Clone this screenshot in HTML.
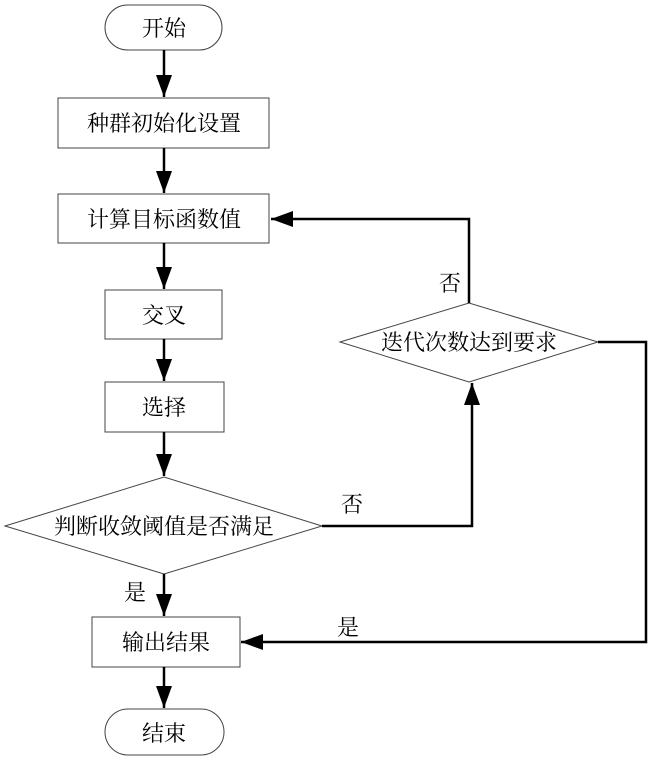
<!DOCTYPE html>
<html><head><meta charset="utf-8"><style>
html,body{margin:0;padding:0;background:#fff;}
text{font-family:"Liberation Serif","Noto Serif CJK SC","Noto Sans CJK SC",serif;font-size:22px;fill:#000;}
</style></head><body>
<svg width="649" height="758" viewBox="0 0 649 758" xmlns="http://www.w3.org/2000/svg">
<defs><marker id="b" markerWidth="22" markerHeight="16" refX="22" refY="8" orient="auto" markerUnits="userSpaceOnUse"><path d="M0,0 L22,8 L0,16 z" fill="#000"/></marker></defs>
<g fill="#fff" stroke="#444" stroke-width="1">
<rect x="105" y="5" width="117" height="45" rx="22.5"/>
<rect x="58" y="98" width="211" height="50"/>
<rect x="58" y="194" width="211" height="49"/>
<rect x="105" y="290" width="117" height="49"/>
<rect x="105" y="382" width="119" height="50"/>
<polygon points="5,526 164,477 322,526 164,574"/>
<rect x="92" y="617" width="148" height="50"/>
<rect x="105" y="709" width="119" height="46" rx="23"/>
<polygon points="340,342 469,303 598,342 469,382"/>
</g>
<g stroke="#000" stroke-width="2.5" fill="none" marker-end="url(#b)">
<line x1="164" y1="50" x2="164" y2="97"/>
<line x1="164" y1="148" x2="164" y2="193"/>
<line x1="164" y1="243" x2="164" y2="289"/>
<line x1="164" y1="339" x2="164" y2="381"/>
<line x1="164" y1="432" x2="164" y2="476"/>
<line x1="164" y1="574" x2="164" y2="616"/>
<line x1="164" y1="667" x2="164" y2="708"/>
<polyline points="322,526 472,526 472,383"/>
<polyline points="469,303 469,219 271,219"/>
<polyline points="598,342 646,342 646,642 241,642"/>
</g>
<g text-anchor="middle">
<text x="164" y="36">开始</text>
<text x="164" y="131">种群初始化设置</text>
<text x="164" y="227">计算目标函数值</text>
<text x="164" y="323">交叉</text>
<text x="164" y="415">选择</text>
<text x="164" y="534">判断收敛阈值是否满足</text>
<text x="166" y="650">输出结果</text>
<text x="164" y="741">结束</text>
<text x="469" y="350">迭代次数达到要求</text>
<text x="352" y="512">否</text>
<text x="135" y="600">是</text>
<text x="348" y="635">是</text>
<text x="450" y="291">否</text>
</g>
</svg>
</body></html>
